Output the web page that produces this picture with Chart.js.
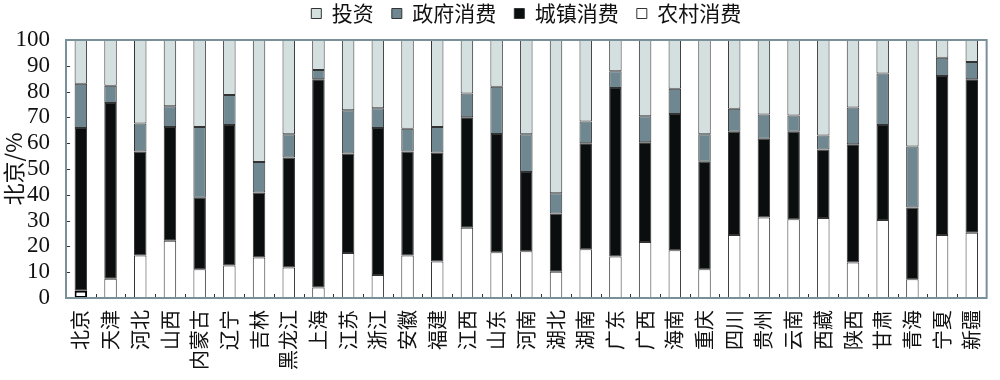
<!DOCTYPE html>
<html>
<head>
<meta charset="utf-8">
<script src="https://cdn.jsdelivr.net/npm/chart.js@4.4.0/dist/chart.umd.min.js"></script>
<style>
  html, body { margin: 0; padding: 0; background: #fff; }
  #wrap { width: 1000px; height: 380px; }
</style>
</head>
<body>
<div id="wrap"><canvas id="myChart" width="1000" height="380"></canvas></div>
<script>
const provinces = ["北京", "天津", "河北", "山西", "内蒙古", "辽宁", "吉林", "黑龙江", "上海", "江苏", "浙江", "安徽", "福建", "江西", "山东", "河南", "湖北", "湖南", "广东", "广西", "海南", "重庆", "四川", "贵州", "云南", "西藏", "陕西", "甘肃", "青海", "宁夏", "新疆"];
const rural = [2.8, 7.5, 16.5, 22.2, 11.1, 12.6, 15.7, 11.8, 4.1, 17.4, 8.9, 16.5, 14.1, 27.2, 17.7, 18.1, 10.2, 18.9, 16.1, 21.7, 18.5, 11.1, 24.4, 31.2, 30.5, 31.0, 13.8, 30.2, 7.3, 24.4, 25.3];
const urban = [63.1, 68.1, 40.3, 44.1, 27.8, 54.5, 25.2, 42.7, 80.7, 38.6, 57.0, 40.3, 42.3, 42.9, 45.9, 30.7, 22.6, 41.1, 65.3, 38.7, 52.8, 41.7, 40.0, 30.5, 33.9, 26.6, 45.8, 36.9, 27.8, 61.6, 59.5];
const government = [17.1, 6.7, 10.8, 8.0, 27.4, 11.6, 11.8, 9.0, 3.6, 16.8, 7.6, 8.8, 9.9, 9.2, 18.3, 14.7, 7.8, 8.4, 6.5, 10.0, 9.8, 10.7, 9.0, 9.4, 6.3, 5.4, 14.2, 19.9, 23.6, 7.1, 6.7];
const investment = [17.0, 17.7, 32.4, 25.7, 33.7, 21.3, 47.3, 36.5, 11.6, 27.2, 26.5, 34.4, 33.7, 20.7, 18.1, 36.5, 59.4, 31.6, 12.1, 29.6, 18.9, 36.5, 26.6, 28.9, 29.3, 37.0, 26.2, 13.0, 41.3, 6.9, 8.5];
const yTicks = [0, 10, 20, 30, 40, 50, 60, 70, 80, 90, 100];

const frameColor = "#7a9099";
const cjk = "'Noto Sans CJK SC', 'Noto Sans', sans-serif";

const makeSet = (label, data, color) => ({
  label: label,
  data: data,
  backgroundColor: color,
  borderColor: "#333",
  borderWidth: 1,
  borderSkipped: false,
  barPercentage: 0.84,
  categoryPercentage: 0.5,
});

const ruralSet = makeSet("农村消费", rural, "#ffffff");
// the first cell has a heavy black box in the source
ruralSet.borderWidth = (ctx) => (ctx.dataIndex === 0 ? 2 : 1);
ruralSet.borderColor = (ctx) => (ctx.dataIndex === 0 ? "#000" : "#333");

const frame = {
  id: "frame",
  afterDraw(chart) {
    const { ctx, chartArea } = chart;
    const x = chart.scales.x;
    const y = chart.scales.y;
    ctx.save();
    ctx.strokeStyle = "#333";
    ctx.lineWidth = 1;
    ctx.beginPath();
    for (let i = 1; i < provinces.length; i++) {
      const px = Math.round((x.getPixelForValue(i - 1) + x.getPixelForValue(i)) / 2) + 0.5;
      ctx.moveTo(px, chartArea.bottom);
      ctx.lineTo(px, chartArea.bottom - 4);
    }
    yTicks.forEach((t) => {
      const py = Math.round(y.getPixelForValue(t)) + 0.5;
      ctx.moveTo(chartArea.left, py);
      ctx.lineTo(chartArea.left + 4, py);
    });
    ctx.stroke();
    ctx.strokeStyle = frameColor;
    ctx.lineWidth = 2;
    ctx.strokeRect(chartArea.left, chartArea.top, chartArea.right - chartArea.left, chartArea.bottom - chartArea.top);
    ctx.restore();
  },
};

const chartElement = document.getElementById("myChart");
const myChart = new Chart(chartElement, {
  type: "bar",
  data: {
    labels: provinces,
    datasets: [
      ruralSet,
      makeSet("城镇消费", urban, "#0a0e0e"),
      makeSet("政府消费", government, "#6f8790"),
      makeSet("投资", investment, "#d4dfe0"),
    ],
  },
  options: {
    responsive: false,
    animation: false,
    layout: { padding: { top: -15, right: 2, left: 0, bottom: 0 } },
    plugins: {
      tooltip: { enabled: false },
      legend: {
        position: "top",
        fullSize: false,
        reverse: true,
        labels: {
          boxWidth: 10,
          boxHeight: 10,
          padding: 18,
          color: "#111",
          font: { family: cjk, size: 21 },
          generateLabels: (chart) => {
            const items = Chart.defaults.plugins.legend.labels.generateLabels(chart);
            items.forEach((it) => {
              it.lineWidth = 1;
              it.strokeStyle = "#333";
            });
            return items;
          },
        },
      },
    },
    scales: {
      x: {
        stacked: true,
        grid: { display: false },
        border: { display: false },
        ticks: {
          minRotation: 90,
          maxRotation: 90,
          autoSkip: false,
          padding: 4,
          color: "#111",
          font: { family: cjk, size: 20 },
        },
        afterFit: (scale) => {
          scale.height = 82;
        },
      },
      // empty strip between the legend and the plot top
      xTop: {
        axis: "x",
        type: "category",
        position: "top",
        grid: { display: false },
        border: { display: false },
        ticks: { display: false },
        afterFit: (scale) => {
          scale.height = 6;
        },
      },
      y: {
        stacked: true,
        min: 0,
        max: 100,
        grid: { display: false },
        border: { display: false },
        ticks: {
          stepSize: 10,
          autoSkip: false,
          padding: 8,
          color: "#111",
          font: { family: "'Liberation Serif', serif", size: 23 },
        },
        title: {
          display: true,
          text: "北京/%",
          color: "#111",
          padding: 0,
          font: { family: cjk, size: 22 },
        },
        afterFit: (scale) => {
          scale.width = 66;
        },
      },
    },
  },
  plugins: [frame],
});
</script>
</body>
</html>
